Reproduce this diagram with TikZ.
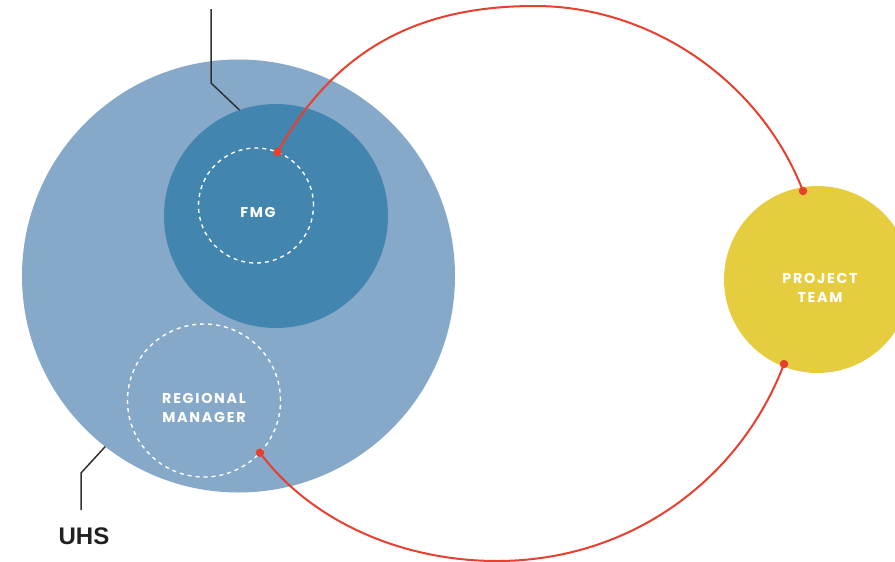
\documentclass[tikz,border=0pt]{standalone}
\usepackage{fontspec}
\setmainfont{Liberation Sans}
\newfontfamily\labelfont[LetterSpace=12]{Poppins}
\definecolor{outerblue}{HTML}{86A9C9}
\definecolor{innerblue}{HTML}{4285AE}
\definecolor{teamyellow}{HTML}{E6CD40}
\definecolor{linkred}{HTML}{E8402F}
\definecolor{leadergray}{HTML}{333333}
\tikzset{
  disc/.style={circle, inner sep=0pt, outer sep=0pt, fill=#1},
  ring/.style={circle, inner sep=0pt, outer sep=0pt, draw=white, line width=1.4pt, dash pattern=on 4pt off 4pt},
  tag/.style={text=white, font=\labelfont\bfseries\fontsize{14.3}{19}\selectfont, align=center},
  leader/.style={draw=leadergray, line width=1.5pt},
  link/.style={draw=linkred, line width=2pt},
  dot/.style={fill=linkred, circle, inner sep=0pt, minimum size=8.5pt}
}
\begin{document}
\begin{tikzpicture}[x=1pt, y=-1pt]
  \useasboundingbox (0,0) rectangle (895,562);
  % circles
  \node[disc=outerblue, minimum size=433pt] (uhs) at (238.5,276) {};
  \node[disc=innerblue, minimum size=224pt] (fmgarea) at (276,216) {};
  \node[ring, minimum size=115pt] (fmg) at (256,205.5) {};
  \node[ring, minimum size=153pt] (regional) at (204,400.5) {};
  \node[disc=teamyellow, minimum size=187pt] (team) at (817.5,279.5) {};
  % labels
  \node[tag] at (258,212) {FMG};
  \node[tag] at (204,408) {REGIONAL\\MANAGER};
  \node[tag] at (820,288) {PROJECT\\TEAM};
  \node[font=\bfseries\fontsize{24}{28}\selectfont, text=black!87] (uhslabel) at (84,536.5) {UHS};
  % leader lines
  \coordinate (topend) at (211,9);
  \coordinate (topbend) at (211,83);
  \draw[leader] (topend) -- (topbend) -- (fmgarea.109);
  \coordinate (uhsbend) at (81,473);
  \coordinate (uhsend) at (81,510);
  \draw[leader] (uhs.232) -- (uhsbend) -- (uhsend);
  % connector end points
  \coordinate (a1) at (fmg.68.6);
  \coordinate (a2) at (803,191);
  \coordinate (b1) at (regional.-43);
  \coordinate (b2) at (784,364);
  % red connectors
  \draw[link] (a1) .. controls (340,40) and (430,6) .. (535,6)
                   .. controls (650,6) and (760,80) .. (a2);
  \draw[link] (b1) .. controls (310,520) and (400,561) .. (497,561)
                   .. controls (630,561) and (740,480) .. (b2);
  \node[dot] at (a1) {};
  \node[dot] at (a2) {};
  \node[dot] at (b1) {};
  \node[dot] at (b2) {};
\end{tikzpicture}
\end{document}
